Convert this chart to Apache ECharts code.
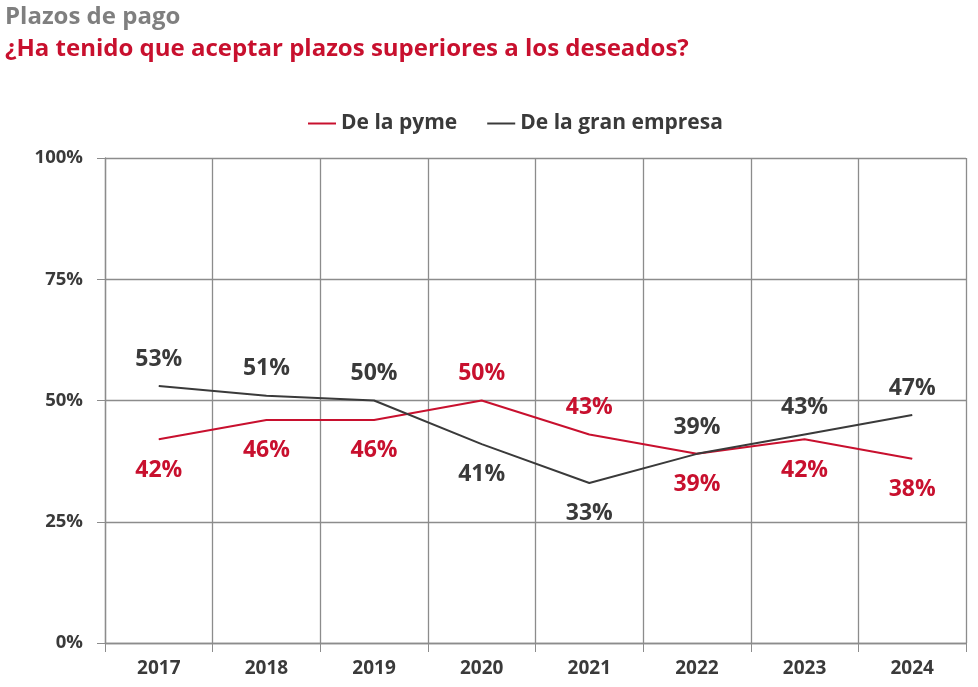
<!DOCTYPE html>
<html><head><meta charset="utf-8">
<script src="https://cdn.jsdelivr.net/npm/echarts@6/dist/echarts.min.js"></script>
<style>html,body{margin:0;padding:0;background:#fff}#c{width:978px;height:687px}</style>
</head><body><div id="c"></div>
<script>
const years = ['2017','2018','2019','2020','2021','2022','2023','2024'];
const pyme = [42,46,46,50,43,39,42,38];
const gran = [53,51,50,41,33,39,43,47];
const pymePos = ['bottom','bottom','bottom','top','top','bottom','bottom','bottom'];
const granPos = ['top','top','top','bottom','bottom','top','top','top'];
const yTicks = [0,25,50,75,100];

const RED = '#c8102e', DARK = '#3a3a3a', GRID = '#8c8c8c';
const FONT = '"Open Sans", "Noto Sans", sans-serif';

function mk(vals, pos, color) {
  return vals.map((v,i)=>({value:v, label:{show:true, position:pos[i], color:color}}));
}

const chart = echarts.init(document.getElementById('c'));
chart.setOption({
  animation:false,
  textStyle:{fontFamily:FONT},
  title:[
    {text:'Plazos de pago', left:0, top:0, textStyle:{fontFamily:FONT, fontWeight:'bold', fontSize:24, color:'#7f7f7f'}},
    {text:'¿Ha tenido que aceptar plazos superiores a los deseados?', left:0, top:32, textStyle:{fontFamily:FONT, fontWeight:'bold', fontSize:24, color:RED}}
  ],
  legend:{
    top:108, left:303, itemWidth:28, itemHeight:2, itemGap:30,
    icon:'rect',
    textStyle:{fontFamily:FONT, fontWeight:'bold', fontSize:21, color:DARK},
    data:['De la pyme','De la gran empresa']
  },
  grid:{left:105, right:12, top:158, bottom:44},
  xAxis:{
    type:'category', data:years, boundaryGap:true,
    axisLine:{lineStyle:{color:GRID, width:1.3}},
    axisTick:{show:true, length:9, lineStyle:{color:GRID}},
    splitLine:{show:true, lineStyle:{color:GRID, width:1.3}},
    axisLabel:{fontFamily:FONT, fontWeight:'bold', fontSize:19, color:DARK, margin:16}
  },
  yAxis:{
    type:'value', min:0, max:100, interval:25,
    axisLine:{show:true, lineStyle:{color:GRID, width:1.3}},
    axisTick:{show:true, length:8, lineStyle:{color:GRID}},
    splitLine:{show:true, lineStyle:{color:GRID, width:1.3}},
    axisLabel:{fontFamily:FONT, fontWeight:'bold', fontSize:18.5, color:DARK, margin:22,
      formatter: v => yTicks.includes(v) ? v+'%' : ''}
  },
  series:[
    {name:'De la pyme', type:'line', data:mk(pyme,pymePos,RED), symbol:'circle', symbolSize:0.5, showSymbol:true,
      lineStyle:{color:RED, width:2}, itemStyle:{color:RED},
      label:{show:true, distance:17, offset:[0,2], fontFamily:FONT, fontWeight:'bold', fontSize:23, formatter:'{c}%'}},
    {name:'De la gran empresa', type:'line', data:mk(gran,granPos,DARK), symbol:'circle', symbolSize:0.5, showSymbol:true,
      lineStyle:{color:DARK, width:2}, itemStyle:{color:DARK},
      label:{show:true, distance:17, offset:[0,2], fontFamily:FONT, fontWeight:'bold', fontSize:23, formatter:'{c}%'}}
  ]
});
</script></body></html>
